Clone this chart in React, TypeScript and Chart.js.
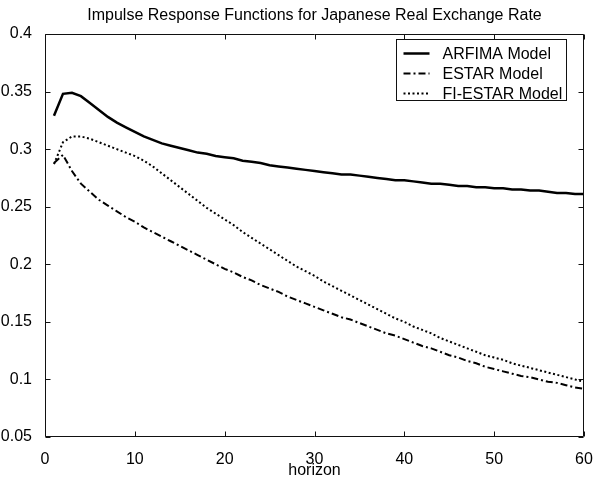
import { useEffect, useRef } from "react";
import { Chart, registerables } from "chart.js";

Chart.register(...registerables);

// Impulse response horizons and the three model responses
const horizon = [
  1, 2, 3, 4, 5, 6, 7, 8, 9, 10, 11, 12, 13, 14, 15, 16, 17, 18, 19, 20,
  21, 22, 23, 24, 25, 26, 27, 28, 29, 30, 31, 32, 33, 34, 35, 36, 37, 38, 39, 40,
  41, 42, 43, 44, 45, 46, 47, 48, 49, 50, 51, 52, 53, 54, 55, 56, 57, 58, 59, 60,
];

const arfima = [
  0.329, 0.348, 0.349, 0.346, 0.340, 0.334, 0.328, 0.323, 0.319, 0.315,
  0.311, 0.308, 0.305, 0.303, 0.301, 0.299, 0.297, 0.296, 0.294, 0.293,
  0.292, 0.290, 0.289, 0.288, 0.286, 0.285, 0.284, 0.283, 0.282, 0.281,
  0.280, 0.279, 0.278, 0.278, 0.277, 0.276, 0.275, 0.274, 0.273, 0.273,
  0.272, 0.271, 0.270, 0.270, 0.269, 0.268, 0.268, 0.267, 0.267, 0.266,
  0.266, 0.265, 0.265, 0.264, 0.264, 0.263, 0.262, 0.262, 0.261, 0.261,
];

const estar = [
  0.288, 0.295, 0.281, 0.270, 0.263, 0.256, 0.251, 0.246, 0.241, 0.237,
  0.232, 0.228, 0.224, 0.220, 0.216, 0.212, 0.208, 0.204, 0.200, 0.196,
  0.193, 0.189, 0.186, 0.182, 0.179, 0.176, 0.172, 0.169, 0.166, 0.163,
  0.160, 0.157, 0.154, 0.152, 0.149, 0.146, 0.143, 0.140, 0.138, 0.135,
  0.132, 0.129, 0.127, 0.124, 0.121, 0.119, 0.116, 0.114, 0.111, 0.109,
  0.107, 0.105, 0.103, 0.102, 0.100, 0.098, 0.097, 0.095, 0.093, 0.092,
];

const fiEstar = [
  0.287, 0.306, 0.311, 0.311, 0.309, 0.306, 0.303, 0.300, 0.297, 0.294,
  0.290, 0.285, 0.279, 0.273, 0.267, 0.261, 0.255, 0.249, 0.244, 0.239,
  0.234, 0.228, 0.223, 0.218, 0.213, 0.208, 0.203, 0.198, 0.194, 0.190,
  0.185, 0.181, 0.177, 0.173, 0.169, 0.165, 0.161, 0.157, 0.153, 0.150,
  0.146, 0.143, 0.140, 0.136, 0.133, 0.130, 0.127, 0.124, 0.121, 0.119,
  0.117, 0.114, 0.112, 0.110, 0.108, 0.106, 0.104, 0.102, 0.100, 0.098,
];

const seriesNames = ["ARFIMA Model", "ESTAR Model", "FI-ESTAR Model"];
const xTicks = [0, 10, 20, 30, 40, 50, 60];
const yTicks = [0.05, 0.1, 0.15, 0.2, 0.25, 0.3, 0.35, 0.4];
const chartTitle = "Impulse Response Functions for Japanese Real Exchange Rate";
const xTitle = "horizon";

const FONT = "'Liberation Sans', Arial, Helvetica, sans-serif";
const INK = "#000000";

const dashStyles: number[][] = [[], [7, 3, 2, 3], [2, 2.5]];
const lineWidths = [2.5, 2, 2];

// Box frame with inward ticks on all four sides, plus the boxed legend
const framePlugin = {
  id: "frameAndLegend",
  afterDatasetsDraw(chart: any) {
    const { ctx, chartArea } = chart;
    const { left, right, top, bottom } = chartArea;
    const xs = chart.scales.x;
    const ys = chart.scales.y;
    const tick = 5;
    ctx.save();
    ctx.strokeStyle = "#111";
    ctx.lineWidth = 1;
    ctx.setLineDash([]);
    const L = Math.round(left) + 0.5;
    const R = Math.round(right) - 0.5;
    const T = Math.round(top) + 0.5;
    const B = Math.round(bottom) - 0.5;
    ctx.beginPath();
    ctx.rect(L, T, R - L, B - T);
    for (const v of xTicks) {
      const px = Math.round(xs.getPixelForValue(v)) + 0.5;
      ctx.moveTo(px, B);
      ctx.lineTo(px, B - tick);
      ctx.moveTo(px, T);
      ctx.lineTo(px, T + tick);
    }
    for (const v of yTicks) {
      const py = Math.round(ys.getPixelForValue(v)) + 0.5;
      ctx.moveTo(L, py);
      ctx.lineTo(L + tick, py);
      ctx.moveTo(R, py);
      ctx.lineTo(R - tick, py);
    }
    ctx.stroke();

    // legend
    const boxW = 170;
    const boxH = 61;
    const bx = Math.round(right) - 18 - boxW + 0.5;
    const by = Math.round(top) + 5 + 0.5;
    ctx.fillStyle = "#ffffff";
    ctx.fillRect(bx, by, boxW, boxH);
    ctx.strokeStyle = "#111";
    ctx.lineWidth = 1;
    ctx.strokeRect(bx, by, boxW, boxH);
    ctx.font = `16px ${FONT}`;
    ctx.textBaseline = "middle";
    ctx.textAlign = "left";
    seriesNames.forEach((name, i) => {
      const yy = by + 14 + i * 20;
      ctx.beginPath();
      ctx.strokeStyle = INK;
      ctx.lineWidth = lineWidths[i];
      ctx.setLineDash(dashStyles[i]);
      ctx.moveTo(bx + 7, yy);
      ctx.lineTo(bx + 33, yy);
      ctx.stroke();
      ctx.setLineDash([]);
      ctx.fillStyle = INK;
      ctx.fillText(name, bx + 46, yy + 1);
    });
    ctx.restore();
  },
};

export default function App() {
  const canvasRef = useRef<HTMLCanvasElement | null>(null);

  useEffect(() => {
    if (!canvasRef.current) return;
    const series = [arfima, estar, fiEstar];
    const chart = new Chart(canvasRef.current, {
      type: "line",
      data: {
        datasets: series.map((vals, i) => ({
          label: seriesNames[i],
          data: vals.map((v, k) => ({ x: horizon[k], y: v })),
          borderColor: INK,
          borderWidth: lineWidths[i],
          borderDash: dashStyles[i],
          pointRadius: 0,
          tension: 0,
          fill: false,
        })),
      },
      options: {
        responsive: true,
        maintainAspectRatio: false,
        animation: false,
        layout: { padding: { left: 0, right: 9, top: 0, bottom: 0 } },
        plugins: {
          legend: { display: false },
          tooltip: { enabled: false },
          title: {
            display: true,
            text: chartTitle,
            color: INK,
            fullSize: false,
            font: { family: FONT, size: 16, weight: "normal", lineHeight: 1.2 },
            padding: { top: 6, bottom: 8.8 },
          },
        },
        scales: {
          x: {
            type: "linear",
            min: 0,
            max: 60,
            afterFit: (s: any) => {
              s.height = 44;
              s.paddingLeft = 0;
              s.paddingRight = 0;
            },
            afterBuildTicks: (s: any) => {
              s.ticks = xTicks.map((v) => ({ value: v }));
            },
            grid: { display: false },
            border: { display: false },
            ticks: {
              color: INK,
              font: { family: FONT, size: 16 },
              padding: 5,
              maxRotation: 0,
              autoSkip: false,
            },
            title: {
              display: true,
              text: xTitle,
              color: INK,
              font: { family: FONT, size: 16, lineHeight: 1.2 },
              padding: { top: 0, bottom: 1 },
            },
          },
          y: {
            type: "linear",
            min: 0.05,
            max: 0.4,
            afterFit: (s: any) => {
              s.width = 45;
              s.paddingTop = 0;
              s.paddingBottom = 0;
            },
            afterBuildTicks: (s: any) => {
              s.ticks = yTicks.map((v) => ({ value: v }));
            },
            grid: { display: false },
            border: { display: false },
            ticks: {
              color: INK,
              font: { family: FONT, size: 16 },
              padding: 5,
              autoSkip: false,
              callback: (v: any) => String(parseFloat(Number(v).toFixed(2))),
            },
          },
        },
      },
      plugins: [framePlugin],
    });
    return () => chart.destroy();
  }, []);

  return (
    <div
      style={{
        position: "absolute",
        left: 0,
        top: 0,
        width: 593,
        height: 481,
        background: "#ffffff",
      }}
    >
      <canvas ref={canvasRef} />
    </div>
  );
}
